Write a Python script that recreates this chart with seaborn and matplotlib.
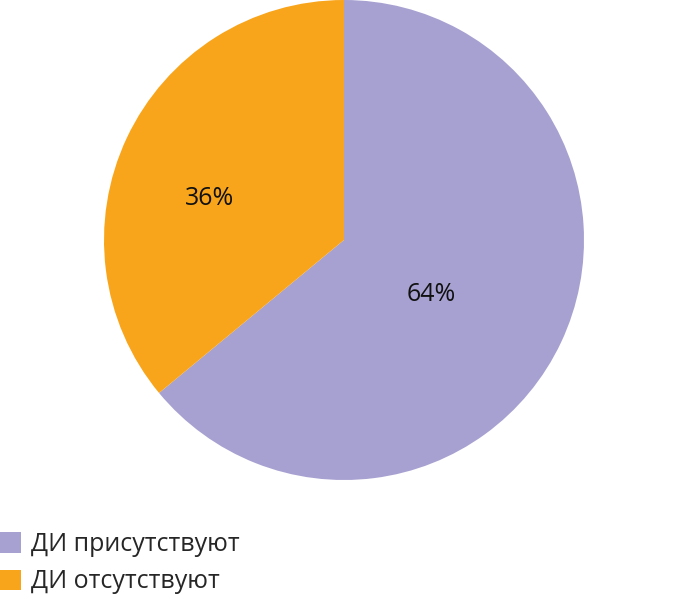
import numpy as np
import matplotlib
matplotlib.use("Agg")
import matplotlib.pyplot as plt
import seaborn as sns

sns.set_style("white")
plt.rcParams['font.family'] = ['Open Sans', 'DejaVu Sans']

labels = ["ДИ присутствуют", "ДИ отсутствуют"]
values = [64, 36]
colors = ["#A7A1D1", "#F9A51B"]
# percent label placement: distance from centre and angle shift from wedge middle
label_dist = [0.43, 0.585]
label_shift = [-7, 8]

fig = plt.figure(figsize=(6.88, 6.02), dpi=100)
ax = fig.add_axes([104 / 688, 122 / 602, 480 / 688, 480 / 602])

wedges, texts, autotexts = ax.pie(values, colors=colors, startangle=90, counterclock=False,
                                  autopct="%d%%", pctdistance=0.5, radius=1,
                                  wedgeprops=dict(linewidth=0),
                                  textprops=dict(fontsize=18, color="#111111"))
for w, t, d, s in zip(wedges, autotexts, label_dist, label_shift):
    ang = np.deg2rad((w.theta1 + w.theta2) / 2 + s)
    t.set_position((d * np.cos(ang), d * np.sin(ang)))

ax.set_xlim(-1, 1)
ax.set_ylim(-1, 1)
ax.set_aspect("equal")
ax.axis("off")

fig.legend(wedges, labels, loc="upper left", bbox_to_anchor=(-0.002, (602 - 532) / 602),
           frameon=False, fontsize=18, handlelength=0.9, handleheight=0.9,
           handletextpad=0.4, labelspacing=0.5, borderpad=0, borderaxespad=0)

fig.savefig("out.png", dpi=100)
